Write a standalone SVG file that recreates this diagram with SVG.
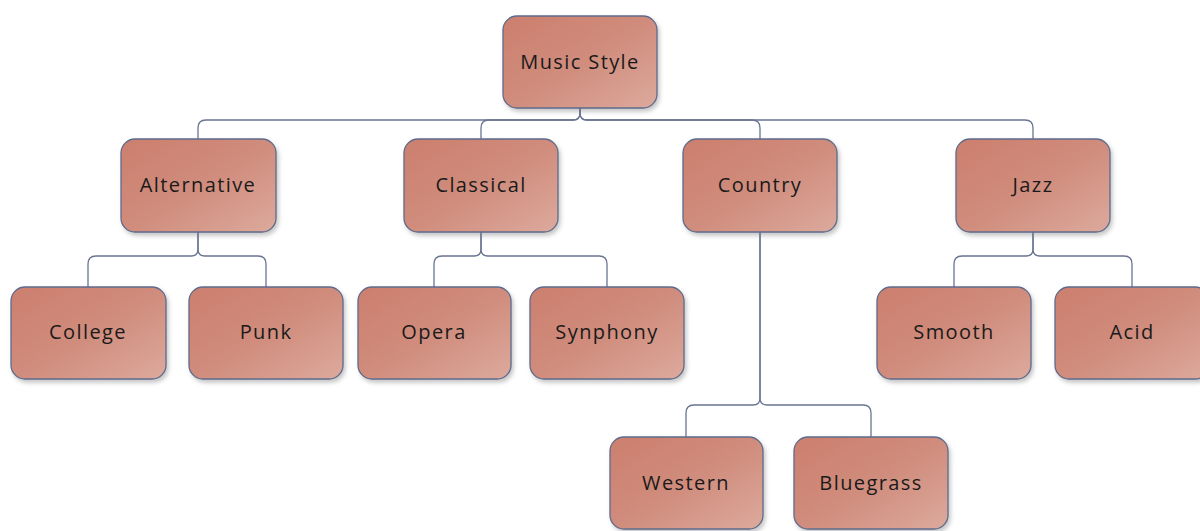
<svg xmlns="http://www.w3.org/2000/svg" width="1200" height="531" viewBox="0 0 1200 531">
  <defs>
    <linearGradient id="boxFill" x1="0" y1="0" x2="1" y2="1">
      <stop offset="0" stop-color="#cc7f6e"/>
      <stop offset="0.5" stop-color="#d08c7c"/>
      <stop offset="1" stop-color="#dcaa9d"/>
    </linearGradient>
    <filter id="shadow" x="-10%" y="-10%" width="125%" height="130%">
      <feDropShadow dx="2" dy="3" stdDeviation="2" flood-color="#808080" flood-opacity="0.45"/>
    </filter>
    <style>
      .box { fill: url(#boxFill); stroke: #5f6b8c; stroke-width: 1.3; filter: url(#shadow); }
      .label { font-family: "Open Sans", "Liberation Sans", sans-serif; font-size: 20px; letter-spacing: 1.4px; fill: #1a1a1a; text-anchor: middle; }
      .conn { fill: none; stroke: #6a7493; stroke-width: 1.3; }
    </style>
  </defs>
  <rect width="1200" height="531" fill="#ffffff"/>

  <!-- connectors -->
  <g id="connectors" class="conn">
    <!-- Music Style to categories -->
    <path d="M580,108 V113 Q580,120 573,120 H206 Q198,120 198,128 V139"/>
    <path d="M580,108 V113 Q580,120 573,120 H489 Q481,120 481,128 V139"/>
    <path d="M580,108 V113 Q580,120 587,120 H752 Q760,120 760,128 V139"/>
    <path d="M580,108 V113 Q580,120 587,120 H1025 Q1033,120 1033,128 V139"/>
    <!-- Alternative -->
    <path d="M198,232 V249 Q198,256 191,256 H96 Q88,256 88,264 V287"/>
    <path d="M198,232 V249 Q198,256 205,256 H258 Q266,256 266,264 V287"/>
    <!-- Classical -->
    <path d="M481,232 V249 Q481,256 474,256 H442 Q434,256 434,264 V287"/>
    <path d="M481,232 V249 Q481,256 488,256 H599 Q607,256 607,264 V287"/>
    <!-- Country -->
    <path d="M760,232 V398 Q760,405 753,405 H694 Q686,405 686,413 V437"/>
    <path d="M760,232 V398 Q760,405 767,405 H863 Q871,405 871,413 V437"/>
    <!-- Jazz -->
    <path d="M1033,232 V249 Q1033,256 1026,256 H962 Q954,256 954,264 V287"/>
    <path d="M1033,232 V249 Q1033,256 1040,256 H1124 Q1132,256 1132,264 V287"/>
  </g>

  <!-- nodes -->
  <g id="music-style">
    <rect class="box" x="503" y="16" width="154" height="92" rx="14"/>
    <text class="label" x="580" y="69">Music Style</text>
  </g>
  <g id="alternative">
    <rect class="box" x="121" y="139" width="155" height="93" rx="14"/>
    <text class="label" x="198" y="192">Alternative</text>
  </g>
  <g id="classical">
    <rect class="box" x="404" y="139" width="154" height="93" rx="14"/>
    <text class="label" x="481" y="192">Classical</text>
  </g>
  <g id="country">
    <rect class="box" x="683" y="139" width="154" height="93" rx="14"/>
    <text class="label" x="760" y="192">Country</text>
  </g>
  <g id="jazz">
    <rect class="box" x="956" y="139" width="154" height="93" rx="14"/>
    <text class="label" x="1033" y="192">Jazz</text>
  </g>
  <g id="college">
    <rect class="box" x="11" y="287" width="155" height="92" rx="14"/>
    <text class="label" x="88" y="339">College</text>
  </g>
  <g id="punk">
    <rect class="box" x="189" y="287" width="154" height="92" rx="14"/>
    <text class="label" x="266" y="339">Punk</text>
  </g>
  <g id="opera">
    <rect class="box" x="358" y="287" width="153" height="92" rx="14"/>
    <text class="label" x="434" y="339">Opera</text>
  </g>
  <g id="synphony">
    <rect class="box" x="530" y="287" width="154" height="92" rx="14"/>
    <text class="label" x="607" y="339">Synphony</text>
  </g>
  <g id="smooth">
    <rect class="box" x="877" y="287" width="154" height="92" rx="14"/>
    <text class="label" x="954" y="339">Smooth</text>
  </g>
  <g id="acid">
    <rect class="box" x="1055" y="287" width="154" height="92" rx="14"/>
    <text class="label" x="1132" y="339">Acid</text>
  </g>
  <g id="western">
    <rect class="box" x="610" y="437" width="153" height="92" rx="14"/>
    <text class="label" x="686" y="490">Western</text>
  </g>
  <g id="bluegrass">
    <rect class="box" x="794" y="437" width="154" height="92" rx="14"/>
    <text class="label" x="871" y="490">Bluegrass</text>
  </g>
</svg>
